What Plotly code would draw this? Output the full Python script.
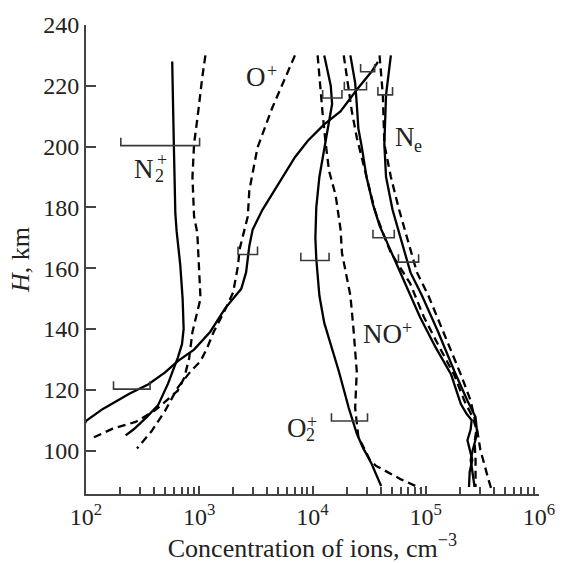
import plotly.graph_objects as go
import math

# ---------------- data (H in km, concentration in cm^-3) ----------------
n2_solid_h = [228, 213, 200, 178, 172, 161, 150, 140, 135, 130.5, 122, 115, 111, 107, 105]
n2_solid_c = [577, 585, 597, 615, 632, 680, 713, 728, 704, 646, 530, 434, 344, 264, 224]

n2_dash_h = [230, 222.5, 211.6, 200.8, 190, 177, 171.6, 161, 150, 139, 130.4, 124, 119.7, 113.2, 109.4, 107.2, 104]
n2_dash_c = [1133, 1061, 980, 900, 871, 900, 961, 994, 1026, 871, 815, 738, 646, 407, 274, 172, 112]

op_solid_h = [108, 109.9, 113.7, 118.6, 121.8, 125.6, 129.4, 133.2, 139.1, 146.7, 153.2, 158.6, 167.3,
              172.7, 179.2, 187.8, 196.5, 201.9, 207.3, 211.6, 218.7, 224.6, 227.9]
op_solid_c = [95, 101, 141, 239, 356, 496, 646, 900, 1252, 1686, 2348, 2592, 2768,
              2962, 3613, 5023, 6998, 9102, 12680, 17660, 24590, 33110, 37840]

op_dash_h = [230, 220.3, 212.7, 199.7, 185.6, 177, 166.2, 160.8, 152, 146.2, 139, 133.7, 129.4,
             126.1, 120.7, 112.9, 106.4, 100.7]
op_dash_c = [6998, 5375, 4405, 3270, 2768, 2682, 2270, 2199, 1991, 1686, 1340, 1172, 1026,
             841, 646, 496, 380, 282]

o2_solid_h = [230, 220, 214, 208, 200, 190, 180, 170, 163, 151, 142, 135, 126, 114, 105.6, 100.7, 95.8, 88.3]
o2_solid_c = [12700, 14500, 14900, 14000, 12700, 11500, 10800, 10600, 10800, 11500, 12700, 14500,
              17100, 20900, 24600, 28100, 33100, 40400]

o2_dash_h = [230, 219, 210.6, 200.8, 192, 184, 172.7, 165, 159, 151, 140, 126, 114, 104.5, 97, 95, 90.5, 87.6]
o2_dash_c = [11100, 11700, 12300, 13100, 14000, 16000, 17700, 18200, 19500, 21600, 23000, 24600,
             23800, 25400, 32000, 36300, 60500, 89800]

no_solid_h = [230, 221, 214, 206, 200, 190, 181, 174, 168, 162, 155, 144, 134, 125, 115.3, 112, 110,
              107, 103.4, 100, 96.9, 93, 88]
no_solid_c = [21600, 23800, 24600, 25400, 27200, 30000, 34200, 39100, 46100, 54300, 66300, 88700,
              121900, 167500, 204200, 230100, 254200, 249300, 233400, 244300, 257700, 244300, 241000]

no_dash_h = [230, 219, 211.6, 203, 196.5, 187.8, 179.2, 171.6, 165.1, 155, 144, 134, 125, 116, 111,
             107, 103, 97, 88]
no_dash_c = [18880, 20850, 22250, 24600, 27160, 31000, 35400, 41800, 49200, 72800, 96100, 132100,
             177800, 221300, 259400, 280800, 269800, 275200, 275200]

ne_solid_h = [230, 217, 200.8, 190, 179.2, 168.3, 158.6, 151, 139.1, 126.1, 116.4, 111, 105.6, 100,
              96.9, 90.4, 88]
ne_solid_c = [49200, 44600, 43100, 44600, 50900, 62100, 73300, 92500, 128500, 179000, 233400, 275200,
              284600, 259400, 249300, 264300, 269800]

ne_dash_h = [230, 217, 200.8, 190, 179.2, 168.3, 158.6, 151, 138, 125, 116.4, 106.7, 100.2, 95, 90.4, 87.5]
ne_dash_c = [39100, 41800, 43100, 49200, 58200, 71000, 83600, 105400, 146600, 204200, 249300, 284600,
             303800, 329000, 358300, 378400]

# error bars: altitude, lower and upper concentration
err_h = [216, 218.7, 224.6, 217, 200.3, 170, 164.5, 162.5, 162, 120.2, 109.7]
err_lo = [12300, 19100, 26600, 37800, 203, 34200, 2200, 7880, 57400, 175, 14700]
err_hi = [18200, 30000, 35400, 50900, 1007, 52700, 3270, 14000, 86500, 368, 30600]

x_tick_vals = [100, 1000, 10000, 100000, 1000000]
x_tick_text = ["10<sup>2</sup>", "10<sup>3</sup>", "10<sup>4</sup>", "10<sup>5</sup>", "10<sup>6</sup>"]
y_tick_vals = [100, 120, 140, 160, 180, 200, 220, 240]

# ---------------- styling ----------------
FONT = "Liberation Serif"
LINE_W = 2.3
DASH = "8px,5px"
CAP_KM = 2.6

fig = go.Figure()

curves = [
    (n2_solid_c, n2_solid_h, "solid"), (n2_dash_c, n2_dash_h, DASH),
    (op_solid_c, op_solid_h, "solid"), (op_dash_c, op_dash_h, DASH),
    (o2_solid_c, o2_solid_h, "solid"), (o2_dash_c, o2_dash_h, DASH),
    (no_solid_c, no_solid_h, "solid"), (no_dash_c, no_dash_h, DASH),
    (ne_solid_c, ne_solid_h, "solid"), (ne_dash_c, ne_dash_h, DASH),
]
for cx, hy, dash in curves:
    fig.add_trace(go.Scatter(x=cx, y=hy, mode="lines",
                             line=dict(color="black", width=LINE_W, dash=dash),
                             showlegend=False, hoverinfo="skip"))

# error brackets (caps pointing upward)
ex, ey = [], []
for h, lo, hi in zip(err_h, err_lo, err_hi):
    ex += [lo, lo, hi, hi, None]
    ey += [h + CAP_KM, h, h, h + CAP_KM, None]
fig.add_trace(go.Scatter(x=ex, y=ey, mode="lines",
                         line=dict(color="#3a3a3a", width=1.6),
                         showlegend=False, hoverinfo="skip"))

# minor ticks on x
minor_vals = []
for d in range(2, 6):
    for k in range(2, 10):
        minor_vals.append(k * 10 ** d)

# labels
def lab(text, x, y, size):
    fig.add_annotation(x=math.log10(x), y=y, text=text, showarrow=False,
                       xanchor="left", yanchor="middle",
                       font=dict(family=FONT, size=size, color="#222"))

big, small = 27, 18
lab("N", 256, 192.7, big)
lab("2", 394, 190.4, small)
lab("+", 409, 195.6, small)
lab("O", 2506, 223, big)
lab("+", 3785, 225.0, small)
lab("N", 50900, 203, big)
lab("e", 75700, 200.3, small)
lab("NO", 26600, 138.3, big)
lab("+", 59700, 140.3, small)
lab("O", 5660, 107.3, big)
lab("2", 8360, 105.0, small)
lab("+", 8530, 109.5, small)

fig.update_layout(
    width=567, height=563,
    margin=dict(l=86, r=17, t=19, b=69),
    paper_bgcolor="white", plot_bgcolor="white",
    font=dict(family=FONT, size=24, color="#222"),
    xaxis=dict(type="log", range=[2, 6],
               tickmode="array", tickvals=x_tick_vals, ticktext=x_tick_text,
               ticks="inside", ticklen=8, tickwidth=1.5, tickcolor="#444",
               minor=dict(tickmode="array", tickvals=minor_vals, ticks="inside",
                          ticklen=7, tickwidth=1.5, tickcolor="#444"),
               showline=True, linecolor="#444", linewidth=1.8,
               showgrid=False, zeroline=False,
               tickfont=dict(family=FONT, size=24, color="#222"),
               title=dict(text="Concentration of ions, cm<sup>−3</sup>",
                          font=dict(family=FONT, size=26, color="#222"), standoff=2)),
    yaxis=dict(range=[85.7, 240], tickmode="array", tickvals=y_tick_vals,
               ticks="inside", ticklen=10, tickwidth=1.5, tickcolor="#444",
               showline=True, linecolor="#444", linewidth=1.8,
               showgrid=False, zeroline=False,
               tickfont=dict(family=FONT, size=24, color="#222"),
               title=dict(text="<i>H</i>, km",
                          font=dict(family=FONT, size=26, color="#222"), standoff=6)),
)

fig.write_html("out.html")
